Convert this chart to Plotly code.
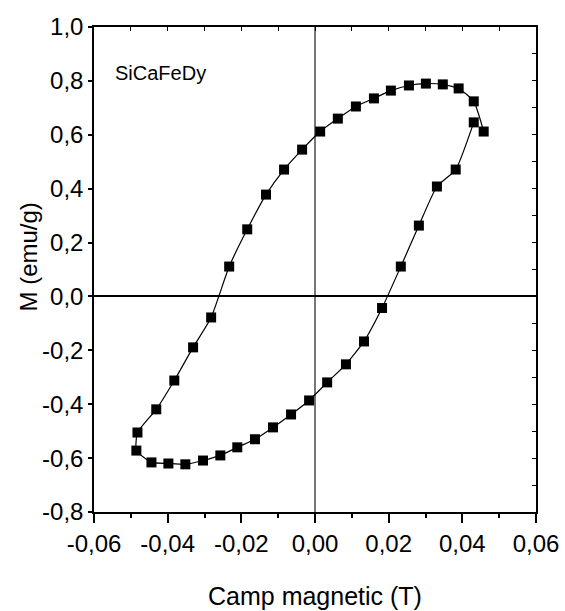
import plotly.graph_objects as go

# Upper branch (decreasing field)
h_down = [0.0458, 0.0431, 0.0390, 0.0347, 0.0301, 0.0255, 0.0206, 0.0160, 0.0111, 0.0062,
          0.0014, -0.0035, -0.0084, -0.0133, -0.0184, -0.0233, -0.0282, -0.0331, -0.0382,
          -0.0431, -0.0482]
m_down = [0.612, 0.724, 0.772, 0.787, 0.790, 0.783, 0.764, 0.735, 0.705, 0.660,
          0.612, 0.545, 0.471, 0.378, 0.249, 0.111, -0.078, -0.189, -0.312,
          -0.419, -0.505]
# Lower branch (increasing field)
h_up = [-0.0485, -0.0444, -0.0398, -0.0352, -0.0304, -0.0257, -0.0211, -0.0163, -0.0114,
        -0.0065, -0.0016, 0.0033, 0.0084, 0.0133, 0.0182, 0.0233, 0.0282, 0.0331,
        0.0382, 0.0431]
m_up = [-0.572, -0.616, -0.620, -0.623, -0.609, -0.590, -0.560, -0.530, -0.486,
        -0.438, -0.386, -0.319, -0.252, -0.167, -0.043, 0.111, 0.263, 0.408,
        0.471, 0.646]

x_ticks = [-0.06, -0.04, -0.02, 0.0, 0.02, 0.04, 0.06]
x_labels = ["-0,06", "-0,04", "-0,02", "0,00", "0,02", "0,04", "0,06"]
y_ticks = [-0.8, -0.6, -0.4, -0.2, 0.0, 0.2, 0.4, 0.6, 0.8, 1.0]
y_labels = ["-0,8", "-0,6", "-0,4", "-0,2", "0,0", "0,2", "0,4", "0,6", "0,8", "1,0"]

FONT = "Liberation Sans, Arial, sans-serif"

fig = go.Figure()
fig.add_trace(go.Scatter(
    x=h_down + h_up, y=m_down + m_up, mode="lines+markers",
    line=dict(color="black", width=1.2, shape="spline", smoothing=0.5),
    marker=dict(symbol="square", size=10, color="black"),
    showlegend=False, hoverinfo="x+y"))

tickfont = dict(family=FONT, size=24, color="black")

fig.update_layout(
    width=565, height=611,
    margin=dict(l=94, r=29, t=27, b=99, autoexpand=False),
    paper_bgcolor="white", plot_bgcolor="white",
    font=dict(family=FONT, color="black"),
    xaxis=dict(range=[-0.06, 0.06], tickvals=x_ticks, ticktext=x_labels, ticks="outside",
               ticklen=9, tickwidth=1.5, tickcolor="black", tickfont=tickfont,
               showline=True, linecolor="black", linewidth=1.5, showgrid=False,
               minor=dict(dtick=0.01, ticks="outside", ticklen=4, tickcolor="black", tickwidth=1.5),
               zeroline=True, zerolinecolor="#777777", zerolinewidth=1.5, automargin=False),
    yaxis=dict(range=[-0.8, 1.0], tickvals=y_ticks, ticktext=y_labels, ticks="outside",
               ticklen=4, tickwidth=1.5, tickcolor="black", tickfont=tickfont,
               showline=True, linecolor="black", linewidth=1.5, showgrid=False,
               zeroline=True, zerolinecolor="black", zerolinewidth=1.5, automargin=False),
    xaxis2=dict(overlaying="x", side="top", range=[-0.06, 0.06], showline=True,
                linecolor="black", linewidth=1.5, ticks="inside", ticklen=4, tickwidth=1.2,
                tickcolor="black", dtick=0.01, tick0=0, showticklabels=False, showgrid=False,
                zeroline=False, matches="x"),
    yaxis2=dict(overlaying="y", side="right", range=[-0.8, 1.0], showline=True,
                linecolor="black", linewidth=1.5, ticks="inside", ticklen=4, tickwidth=1.2,
                tickcolor="black", dtick=0.1, tick0=0, showticklabels=False, showgrid=False,
                zeroline=False),
    annotations=[
        dict(text="SiCaFeDy", xref="paper", yref="paper", x=0.043, y=0.905,
             xanchor="left", yanchor="middle", showarrow=False,
             font=dict(family=FONT, size=20, color="black")),
        dict(text="Camp magnetic (T)", xref="paper", yref="paper", x=0.5, y=-0.173,
             xanchor="center", yanchor="middle", showarrow=False,
             font=dict(family=FONT, size=25, color="black")),
        dict(text="M (emu/g)", xref="paper", yref="paper", x=-0.149, y=0.525,
             xanchor="center", yanchor="middle", showarrow=False, textangle=-90,
             font=dict(family=FONT, size=24, color="black")),
    ],
)
# invisible trace to activate secondary axes
fig.add_trace(go.Scatter(x=[None], y=[None], xaxis="x2", yaxis="y2", showlegend=False,
                         hoverinfo="skip"))

fig.write_html("out.html")
